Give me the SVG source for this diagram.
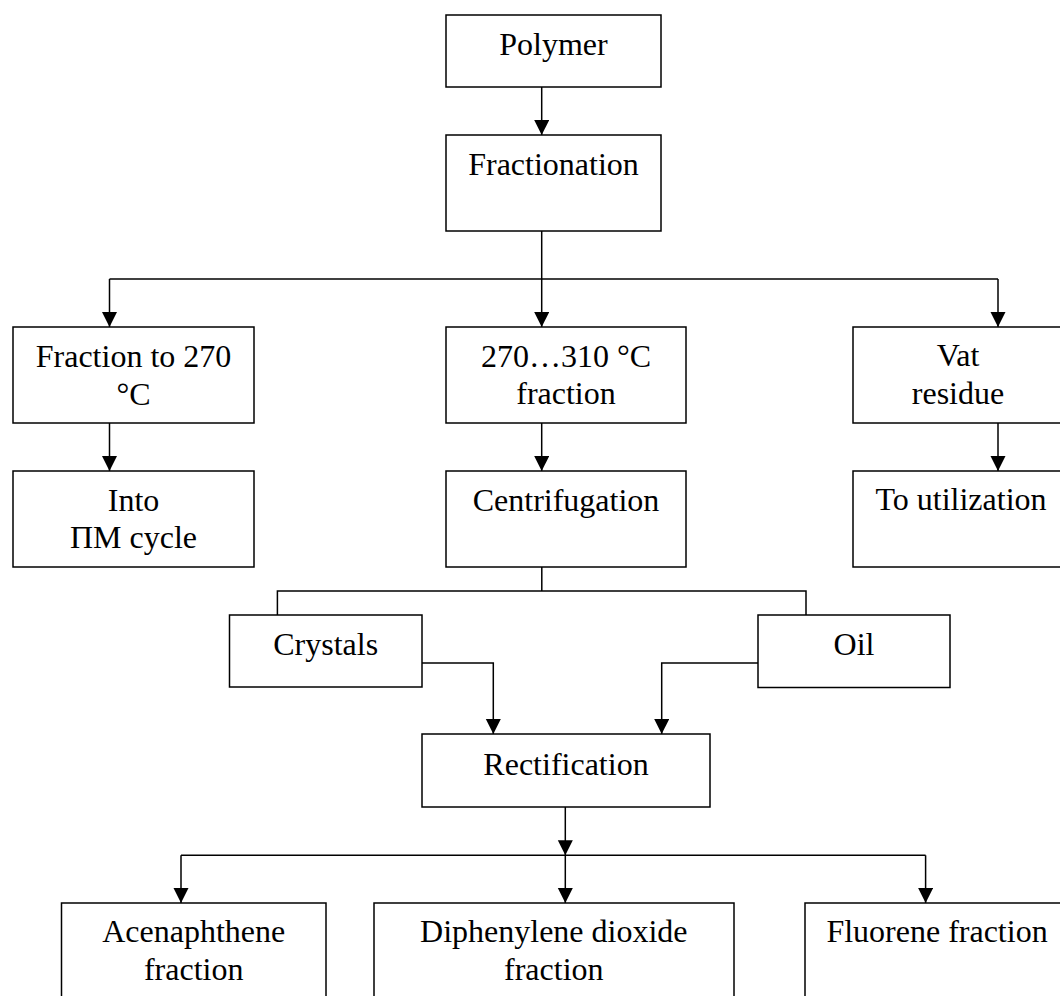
<svg xmlns="http://www.w3.org/2000/svg" width="1060" height="996" viewBox="0 0 1060 996">
<style>
.box{fill:#fff;stroke:#000;stroke-width:1.5}
.lbl{font-family:"Liberation Serif","Times New Roman",serif;font-size:32px;fill:#000;text-anchor:middle}
.ln{fill:none;stroke:#000;stroke-width:1.5}
.arr{marker-end:url(#ah)}
</style>
<defs>
<marker id="ah" markerUnits="userSpaceOnUse" markerWidth="16" markerHeight="16" refX="15" refY="7.5" orient="auto">
<path d="M0,0 L15,7.5 L0,15 z" fill="#000"/>
</marker>
</defs>
<rect width="1060" height="996" fill="#fff"/>
<g id="connectors">
<path class="ln arr" d="M541.7,87 V135"/>
<path class="ln arr" d="M541.7,231 V327"/>
<path class="ln" d="M109.5,279 H998"/>
<path class="ln arr" d="M109.5,279 V327"/>
<path class="ln arr" d="M998,279 V327"/>
<path class="ln arr" d="M109.5,423 V471"/>
<path class="ln arr" d="M541.7,423 V471"/>
<path class="ln arr" d="M998,423 V471"/>
<path class="ln" d="M541.8,567 V591 M277.4,615 V591 H806 V615"/>
<path class="ln arr" d="M422,663 H493.3 V734"/>
<path class="ln arr" d="M758,663 H661.7 V734"/>
<path class="ln arr" d="M565.3,807 V855.3"/>
<path class="ln" d="M181,855.3 H925.6"/>
<path class="ln arr" d="M181,855.3 V903"/>
<path class="ln arr" d="M565.3,855.3 V903"/>
<path class="ln arr" d="M925.6,855.3 V903"/>
</g>
<g id="polymer"><rect class="box" x="446" y="15" width="215" height="72"/><text class="lbl" x="553.5" y="55">Polymer</text></g>
<g id="fractionation"><rect class="box" x="446" y="135" width="215" height="96"/><text class="lbl" x="553.5" y="175">Fractionation</text></g>
<g id="fraction270"><rect class="box" x="13" y="327" width="241" height="96"/><text class="lbl" x="133.5" y="366.5">Fraction to 270</text><text class="lbl" x="133.5" y="405">°C</text></g>
<g id="into-cycle"><rect class="box" x="13" y="471" width="241" height="96"/><text class="lbl" x="133.5" y="510.5">Into</text><text class="lbl" x="133.5" y="548">ПМ cycle</text></g>
<g id="fraction270-310"><rect class="box" x="446" y="327" width="240" height="96"/><text class="lbl" x="566" y="366.5">270…310 °C</text><text class="lbl" x="566" y="404">fraction</text></g>
<g id="centrifugation"><rect class="box" x="446" y="471" width="240" height="96"/><text class="lbl" x="566" y="510.5">Centrifugation</text></g>
<g id="vat-residue"><rect class="box" x="853" y="327" width="220" height="96"/><text class="lbl" x="958" y="366">Vat</text><text class="lbl" x="958" y="404">residue</text></g>
<g id="utilization"><rect class="box" x="853" y="471" width="220" height="96"/><text class="lbl" x="961" y="510">To utilization</text></g>
<g id="crystals"><rect class="box" x="229.5" y="615" width="192.5" height="72"/><text class="lbl" x="325.7" y="655">Crystals</text></g>
<g id="oil"><rect class="box" x="758" y="615" width="192" height="72.5"/><text class="lbl" x="854" y="655">Oil</text></g>
<g id="rectification"><rect class="box" x="422" y="734" width="288" height="73"/><text class="lbl" x="566" y="775">Rectification</text></g>
<g id="acenaphthene"><rect class="box" x="61.5" y="903" width="264.5" height="120"/><text class="lbl" x="193.7" y="941.5">Acenaphthene</text><text class="lbl" x="193.7" y="980">fraction</text></g>
<g id="diphenylene"><rect class="box" x="374" y="903" width="360" height="120"/><text class="lbl" x="553.8" y="941.5">Diphenylene dioxide</text><text class="lbl" x="553.8" y="980">fraction</text></g>
<g id="fluorene"><rect class="box" x="805" y="903" width="270" height="120"/><text class="lbl" x="937" y="941.5">Fluorene fraction</text></g>
</svg>
